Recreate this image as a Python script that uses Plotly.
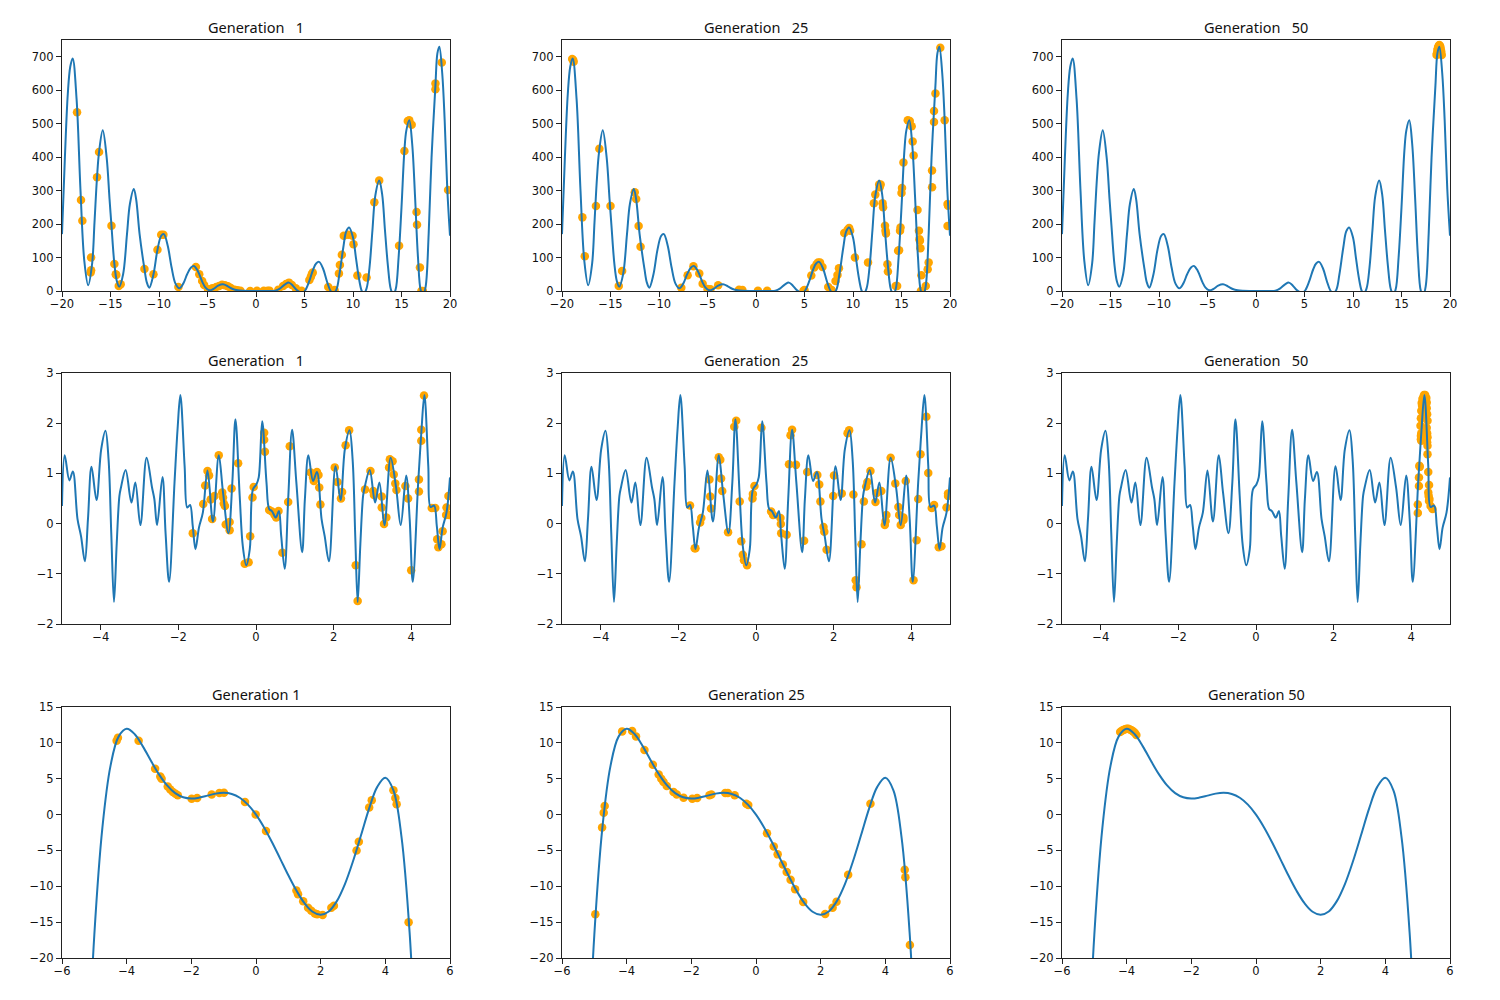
import plotly.graph_objects as go

curve_a_x = [-20,-19.7,-19.4,-19.15,-18.9,-18.5,-18.1,-17.7,-17.3,-16.9,-16.65,-16.39,-16.18,-15.8,-15.4,-15.1,-14.9,-14.6,-14.35,-14.1,-13.7,-13.3,-13.0,-12.6,-12.36,-12.0,-11.5,-11.25,-11.0,-10.57,-10.16,-9.77,-9.5,-9.1,-8.7,-8.3,-7.9,-7.5,-7.1,-6.7,-6.4,-6.0,-5.5,-5.2,-4.8,-4.4,-3.9,-3.4,-2.9,-2.4,-1.9,-1.4,-0.5,0.5,1.5,2,2.5,3,3.4,3.8,4.2,4.5,4.8,5.1,5.5,5.9,6.2,6.5,6.9,7.3,7.7,8.0,8.3,8.6,9,9.3,9.6,10,10.3,10.6,10.9,11.1,11.4,11.7,12,12.3,12.7,13,13.3,13.6,13.9,14.15,14.4,14.7,15,15.3,15.5,15.8,16.1,16.4,16.7,17,17.25,17.5,17.8,18.1,18.5,18.7,18.9,19.2,19.45,19.72,20]
curve_a_y = [170,400,590,670,695,575,305,90,17,80,205,340,415,480,400,275,195,81,30,13,50,170,260,305,275,170,66,25,10,50,123,165,170,135,70,22,8,22,50,70,75,60,25,10,2,6,16,20,14,6,2,0.5,0,0,0,1,8,20,25,16,3,-3,-5,3,30,65,82,87,68,30,0,-6,5,50,130,178,190,160,100,40,0,-8,8,70,180,285,330,290,180,75,5,-10,5,100,250,420,480,510,440,280,100,0,-12,15,170,400,615,710,730,650,510,305,165]

curve_b_x = [-5,-4.93,-4.81,-4.72,-4.6,-4.51,-4.41,-4.33,-4.24,-4.11,-3.99,-3.88,-3.8,-3.73,-3.66,-3.59,-3.52,-3.48,-3.36,-3.21,-3.11,-2.98,-2.82,-2.68,-2.62,-2.55,-2.41,-2.33,-2.24,-2.1,-2.02,-1.95,-1.84,-1.77,-1.7,-1.63,-1.56,-1.47,-1.37,-1.25,-1.11,-0.96,-0.85,-0.71,-0.61,-0.53,-0.42,-0.34,-0.25,-0.16,-0.08,0.01,0.07,0.16,0.27,0.34,0.41,0.51,0.59,0.65,0.74,0.83,0.93,1.04,1.19,1.26,1.35,1.47,1.57,1.69,1.77,1.88,2.05,2.18,2.29,2.41,2.49,2.56,2.62,2.69,2.76,2.8,2.93,3.07,3.18,3.31,3.47,3.61,3.73,3.87,3.96,4.04,4.18,4.26,4.34,4.44,4.5,4.59,4.66,4.73,4.81,4.91,5]
curve_b_y = [0.35,1.36,0.86,1.04,0.09,-0.25,-0.75,0.1,1.13,0.47,1.48,1.85,1.28,-0.2,-1.56,-0.4,0.55,0.72,1.07,0.42,0.82,-0.03,1.31,0.72,0.49,-0.03,0.93,-0.2,-1.16,0.82,1.9,2.56,1.15,0.32,0.37,-0.05,-0.51,-0.08,0.22,1.06,0.04,1.36,0.62,-0.19,0.82,2.08,0.55,-0.45,-0.83,-0.51,0.68,0.78,0.92,2.04,0.82,0.29,0.25,0.12,0.25,-0.25,-0.9,0.49,1.87,0.82,-0.57,0.49,1.36,0.85,1.03,0.09,-0.25,-0.75,1.14,0.47,1.48,1.86,1.28,-0.3,-1.56,-0.4,0.55,0.72,1.07,0.42,0.82,-0.03,1.31,0.72,-0.03,0.96,0.1,-1.16,0.82,1.8,2.56,1.15,0.33,0.36,-0.05,-0.51,-0.08,0.22,0.92]

curve_c_x = [-5.25,-5,-4.75,-4.5,-4.25,-4,-3.75,-3.5,-3.25,-3,-2.75,-2.5,-2.25,-2,-1.75,-1.5,-1.25,-1,-0.75,-0.5,-0.25,0,0.25,0.5,0.75,1,1.25,1.5,1.75,2,2.25,2.5,2.75,3,3.25,3.5,3.75,4,4.25,4.5,4.75,5]
curve_c_y = [-40.4,-16.75,-1.78,6.79,10.87,11.95,11.2,9.51,7.51,5.61,4.07,2.99,2.41,2.24,2.37,2.64,2.92,3.04,2.88,2.35,1.39,0,-1.79,-3.89,-6.17,-8.47,-10.6,-12.36,-13.55,-13.97,-13.51,-12.07,-9.69,-6.51,-2.86,0.87,3.86,5.12,3.37,-3.12,-16.4,-39.1]

a1_x = [-18.45,-18.04,-17.9,-17,-17,-17.05,-16.39,-16.18,-14.9,-14.6,-14.46,-14.4,-14.15,-13.95,-11.5,-10.57,-10.16,-9.77,-9.55,-8,-6.2,-5.85,-5.55,-5.35,-4.95,-4.5,-4.1,-3.8,-3.5,-3.2,-2.9,-2.6,-2.2,-1.9,-1.6,-0.6,0.1,0.8,1.2,1.4,2.3,2.8,3.1,3.4,3.7,4.1,4.7,5.5,5.65,5.75,5.85,7.45,8.1,8.55,8.65,8.85,9.05,9.5,9.95,10.05,10.45,11.4,12.2,12.7,14.75,15.3,15.65,15.8,16.05,16.55,16.6,16.9,17.05,17.2,18.5,18.5,19.15,19.8]
a1_y = [534,272,210,100,62,55,340,415,195,81,50,48,15,20,66,50,123,168,168,12,72,50,30,18,5,8,12,15,19,17,14,9,4,2,1,0,1,1,1,1,4,15,21,25,18,8,1,33,42,50,55,12,3,52,78,108,165,168,165,140,46,40,265,330,135,418,508,510,497,236,198,70,0,0,620,603,683,302]

a25_x = [-18.85,-18.95,-18.8,-17.9,-17.65,-16.5,-16.15,-15,-14.15,-13.8,-12.5,-12.35,-12.1,-11.9,-7.7,-7.05,-6.45,-5.85,-5.5,-5,-4.7,-3.9,-1.75,-1.4,0.2,1.15,4.9,5,5.7,6,6.25,6.4,6.6,6.85,7.45,7.8,8.2,8.4,8.55,9.1,9.45,9.6,9.7,10.2,11.55,12.15,12.3,12.7,12.85,12.75,13.05,13.1,13.3,13.35,13.4,13.55,13.6,14.4,14.55,14.65,14.75,14.85,14.9,15,15.05,15.2,15.65,15.85,16.05,16.15,16.25,16.65,16.8,16.85,16.9,16.95,17.05,17,17.5,17.7,17.8,18.15,18.15,18.35,18.35,18.5,19,19.45,19.75,19.8,19.75]
a25_y = [690,693,685,220,104,254,425,254,15,60,295,275,194,132,10,47,74,52,22,6,5,17,4,3,1,1,1,3,46,70,80,85,85,72,12,3,30,48,68,173,183,188,180,100,85,262,288,318,318,310,262,250,195,180,172,80,58,15,15,120,122,180,190,293,308,384,510,508,492,447,405,242,180,155,150,128,47,0,15,65,85,310,360,505,538,590,727,510,260,255,194]

a50_x = [18.62,18.65,18.7,18.75,18.8,18.85,18.9,18.95,19,19.05,19.1,19.15]
a50_y = [705,710,720,725,730,733,735,733,730,722,715,705]

b1_x = [-1.63,-1.36,-1.31,-1.25,-1.21,-1.17,-1.13,-1.07,-0.96,-0.87,-0.85,-0.83,-0.8,-0.78,-0.68,-0.68,-0.63,-0.46,-0.29,-0.19,-0.15,-0.09,-0.06,0.21,0.21,0.23,0.34,0.41,0.48,0.52,0.58,0.68,0.83,0.87,1.41,1.47,1.49,1.57,1.61,1.63,1.66,2.03,2.1,2.19,2.22,2.31,2.4,2.57,2.62,2.81,2.95,3.02,3.04,3.24,3.24,3.3,3.36,3.43,3.45,3.52,3.55,3.59,3.62,3.85,3.92,4,4.2,4.2,4.26,4.26,4.33,4.53,4.62,4.67,4.7,4.78,4.81,4.9,4.91,4.96,4.98]
b1_y = [-0.19,0.39,0.76,1.05,0.96,0.48,0.09,0.55,1.36,0.62,0.52,0.4,0.35,-0.02,0.03,-0.13,0.7,1.2,-0.8,-0.77,-0.25,0.52,0.73,1.81,1.67,1.43,0.27,0.24,0.17,0.12,0.25,-0.58,0.43,1.54,1.02,0.92,0.85,1.03,0.97,0.72,0.38,1.12,0.83,0.5,0.63,1.56,1.86,-0.83,-1.54,0.68,1.05,0.65,0.57,0.54,0.32,-0.01,0.12,1.12,1.28,1.24,0.98,0.8,0.67,0.75,0.5,-0.93,0.88,0.64,1.65,1.87,2.55,0.31,0.31,-0.31,-0.47,-0.41,-0.15,0.17,0.32,0.55,0.17]

b25_x = [-1.7,-1.58,-1.56,-1.44,-1.41,-1.2,-1.18,-1.16,-0.96,-0.92,-0.9,-0.87,-0.72,-0.56,-0.51,-0.42,-0.38,-0.34,-0.31,-0.23,-0.09,-0.08,-0.04,0.14,0.39,0.44,0.63,0.64,0.65,0.79,0.85,0.89,0.93,1.03,1.24,1.32,1.58,1.63,1.66,1.74,1.76,1.82,1.99,2.01,2.21,2.36,2.4,2.51,2.57,2.59,2.72,2.78,2.84,2.87,2.95,3.08,3.11,3.23,3.36,3.34,3.32,3.47,3.59,3.67,3.69,3.73,3.8,3.8,3.86,4.06,4.14,4.18,4.24,4.39,4.44,4.53,4.59,4.71,4.78,4.91,4.95,4.95]
b25_y = [0.36,-0.49,-0.49,0.02,0.11,0.88,0.54,0.3,1.32,1.27,0.9,0.65,-0.17,1.93,2.05,0.44,-0.35,-0.62,-0.73,-0.83,0.5,0.59,0.75,1.91,0.24,0.17,0.11,-0.01,-0.19,-0.22,1.18,1.76,1.87,1.17,-0.34,1.03,0.97,0.78,0.44,-0.07,-0.16,-0.52,0.55,0.96,0.6,1.8,1.86,0.58,-1.13,-1.27,-0.41,0.44,0.74,0.83,1.05,0.43,0.61,0.65,0.17,0.05,-0.03,1.31,0.8,0.33,0.17,-0.03,0.12,0.07,0.85,-1.13,-0.33,0.49,1.38,2.13,1.01,0.31,0.37,-0.47,-0.45,0.32,0.6,0.55]

b50_x = [4.17,4.17,4.21,4.22,4.2,4.2,4.25,4.24,4.27,4.28,4.31,4.33,4.36,4.4,4.41,4.4,4.42,4.42,4.42,4.44,4.46,4.44,4.47,4.5,4.55,4.26,4.25,4.26,4.27,4.29,4.39,4.4,4.42,4.41,4.41,4.26,4.25,4.45,4.46]
b50_y = [0.38,0.21,1.15,1.13,0.92,0.75,1.68,1.95,2.11,2.35,2.51,2.56,2.56,2.41,2.18,1.91,1.72,1.55,1.38,1.03,0.77,0.62,0.49,0.35,0.29,1.8,2.1,2.25,2.4,2.48,2.5,2.3,2.05,1.8,1.62,1.65,1.75,0.55,0.45]

c1_x = [-4.31,-4.27,-3.63,-3.12,-2.96,-2.92,-2.73,-2.65,-2.57,-2.49,-2.42,-1.99,-1.82,-1.37,-1.13,-0.99,-0.34,-0.01,0.31,1.25,1.3,1.46,1.61,1.71,1.82,1.89,2.06,2.33,2.41,3.11,3.18,3.5,3.58,4.25,4.31,4.35,4.72]
c1_y = [10.3,10.7,10.3,6.4,5.3,5,3.9,3.5,3.15,2.9,2.7,2.2,2.3,2.8,3,3.05,1.75,0,-2.3,-10.6,-11.1,-12.1,-13,-13.4,-13.8,-13.9,-14,-13,-12.7,-5,-3.8,1,2,3.4,2.3,1.45,-15]

c25_x = [-4.97,-4.76,-4.71,-4.68,-4.14,-3.83,-3.71,-3.45,-3.19,-3.01,-2.93,-2.86,-2.76,-2.55,-2.45,-2.24,-1.97,-1.82,-1.44,-1.38,-0.95,-0.87,-0.66,-0.3,-0.24,0.34,0.55,0.67,0.83,0.95,1.07,1.21,1.46,2.14,2.37,2.49,2.85,3.54,4.6,4.62,4.76]
c25_y = [-13.9,-1.8,0.25,1.2,11.6,11.65,10.9,9,6.95,5.6,5,4.55,4,3.15,2.8,2.35,2.2,2.3,2.7,2.8,3,3,2.7,1.5,1.35,-2.6,-4.45,-5.55,-6.95,-8,-9.1,-10.4,-12.2,-13.85,-13,-12.15,-8.4,1.5,-7.7,-8.75,-18.2]

c50_x = [-4.2,-4.15,-4.1,-4.05,-4,-3.95,-3.9,-3.85,-3.8,-3.75,-3.7]
c50_y = [11.5,11.7,11.8,11.9,11.95,11.95,11.85,11.75,11.6,11.4,11.1]

titles_top = ["Generation\u00a0\u00a0\u00a01", "Generation\u00a0\u00a0\u00a025", "Generation\u00a0\u00a0\u00a050"]
titles_bottom = ["Generation\u00a01", "Generation\u00a025", "Generation\u00a050"]

W, H = 1500, 1000
col_left = [62, 562, 1062]
col_right = [450, 950, 1450]
row_top = [40, 373, 707]
row_bottom = [291, 624, 958]

rows = [
    dict(curve=(curve_a_x, curve_a_y), pts=[(a1_x, a1_y), (a25_x, a25_y), (a50_x, a50_y)],
         xr=[-20, 20], yr=[0, 750], dx=5, dy=100, titles=titles_top),
    dict(curve=(curve_b_x, curve_b_y), pts=[(b1_x, b1_y), (b25_x, b25_y), (b50_x, b50_y)],
         xr=[-5, 5], yr=[-2, 3], dx=2, dy=1, titles=titles_top),
    dict(curve=(curve_c_x, curve_c_y), pts=[(c1_x, c1_y), (c25_x, c25_y), (c50_x, c50_y)],
         xr=[-6, 6], yr=[-20, 15], dx=2, dy=5, titles=titles_bottom),
]

fig = go.Figure()
annotations = []
n = 0
for r, row in enumerate(rows):
    for c in range(3):
        n += 1
        suffix = "" if n == 1 else str(n)
        px, py = row["pts"][c]
        fig.add_trace(go.Scatter(x=px, y=py, mode="markers", xaxis=f"x{suffix}", yaxis=f"y{suffix}",
                                 marker=dict(color="orange", size=8.5), showlegend=False))
        fig.add_trace(go.Scatter(x=row["curve"][0], y=row["curve"][1], mode="lines", xaxis=f"x{suffix}", yaxis=f"y{suffix}",
                                 line=dict(color="#1f77b4", width=2, shape="spline", smoothing=1.0), showlegend=False))
        common = dict(showgrid=False, zeroline=False, showline=True, mirror=True, linecolor="#222222", linewidth=1,
                      ticks="outside", ticklen=5, tickwidth=1, tickcolor="#222222", automargin=False,
                      tickfont=dict(family="DejaVu Sans", size=11.5, color="#111111"))
        fig.update_layout({
            f"xaxis{suffix}": dict(domain=[col_left[c] / W, col_right[c] / W], range=row["xr"], dtick=row["dx"],
                                   anchor=f"y{suffix}", tick0=0, ticklabelstandoff=-3, **common),
            f"yaxis{suffix}": dict(domain=[1 - row_bottom[r] / H, 1 - row_top[r] / H], range=row["yr"], dtick=row["dy"],
                                   anchor=f"x{suffix}", tick0=0, **common),
        })
        annotations.append(dict(text=row["titles"][c], xref="paper", yref="paper",
                                x=(col_left[c] + col_right[c]) / 2 / W, y=1 - (row_top[r] - 2) / H,
                                xanchor="center", yanchor="bottom", showarrow=False, borderpad=0,
                                font=dict(family="Noto Sans", size=14.5, color="#111111")))

fig.update_layout(width=W, height=H, margin=dict(l=0, r=0, t=0, b=0), paper_bgcolor="white", plot_bgcolor="white",
                  annotations=annotations, showlegend=False)
fig.write_html("out.html", config={"displayModeBar": False}, post_script="document.body.style.margin='0';")
